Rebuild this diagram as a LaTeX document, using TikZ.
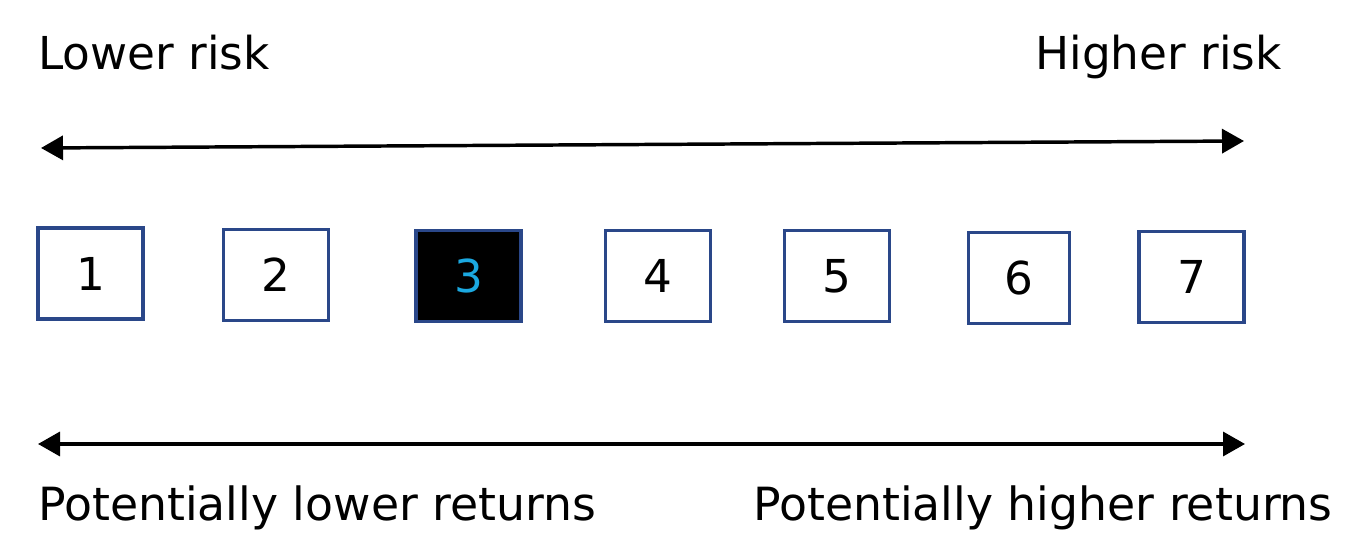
\documentclass[tikz,border=0pt]{standalone}
\usepackage{fontspec}
\setmainfont{DejaVu Sans}
\usetikzlibrary{arrows.meta}
\definecolor{boxblue}{HTML}{2A4789}
\definecolor{hilite}{HTML}{1BA8E0}
\tikzset{
  lbl/.style={inner sep=0pt, font=\fontsize{34pt}{40pt}\selectfont},
  lblb/.style={inner sep=0pt, font=\fontsize{34.3pt}{40pt}\selectfont},
  riskbox/.style={draw=boxblue, line width=2.6pt, inner sep=0pt, minimum width=78.5pt, minimum height=68.5pt, font=\fontsize{34pt}{40pt}\selectfont},
  scalearrow/.style={line width=2.6pt, {Triangle[length=16.5pt,width=18pt]}-{Triangle[length=16.5pt,width=18pt]}}
}
\begin{document}
\begin{tikzpicture}[x=0.75pt,y=-0.75pt]
\useasboundingbox (0,0) rectangle (1349,555);
\node[lbl, anchor=base west] (lr) at (38,70) {Lower risk};
\node[lbl, anchor=base east] (hr) at (1282,70) {Higher risk};
\coordinate (tl) at (41,148);
\coordinate (tr) at (1244,141);
\draw[scalearrow] (tl) -- (tr);
\node[riskbox] (b1) at (90.5,273.5) {1};
\node[riskbox] (b2) at (276,275) {2};
\node[riskbox, fill=black, text=hilite] (b3) at (468.5,276) {3};
\node[riskbox] (b4) at (658,276) {4};
\node[riskbox] (b5) at (837,276) {5};
\node[riskbox, minimum width=75.5pt] (b6) at (1019,278) {6};
\node[riskbox] (b7) at (1191.5,277) {7};
\coordinate (bl) at (38,444);
\coordinate (br) at (1245,444);
\draw[scalearrow] (bl) -- (br);
\node[lblb, anchor=base west] (plr) at (38,520) {Potentially lower returns};
\node[lblb, anchor=base east] (phr) at (1333,520) {Potentially higher returns};
\end{tikzpicture}
\end{document}
